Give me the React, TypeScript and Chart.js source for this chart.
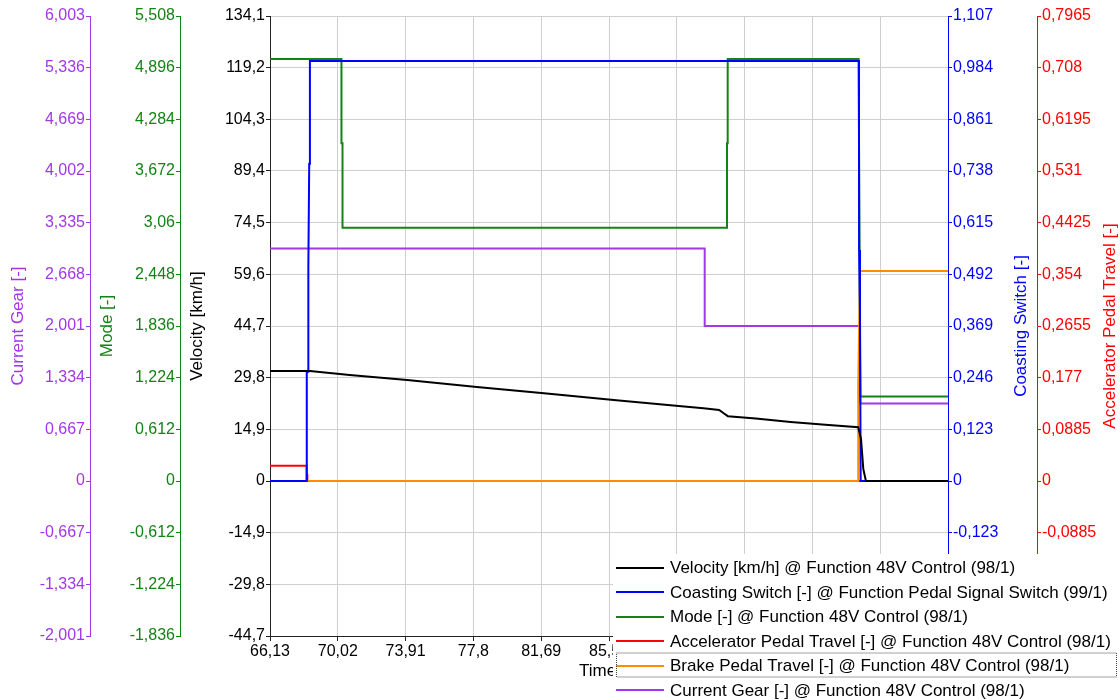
import React, { useEffect, useRef } from "react";
import { Chart, registerables } from "chart.js";

Chart.register(...registerables);

// ---- tick values (labels derived: decimal point -> comma) ----
const timeTicks = [66.13, 70.02, 73.91, 77.8, 81.69, 85.58, 89.47, 93.36, 97.25, 101.14, 105.03];
const velocityTicks = [-44.7, -29.8, -14.9, 0, 14.9, 29.8, 44.7, 59.6, 74.5, 89.4, 104.3, 119.2, 134.1];
const modeTicks = [-1.836, -1.224, -0.612, 0, 0.612, 1.224, 1.836, 2.448, 3.06, 3.672, 4.284, 4.896, 5.508];
const gearTicks = [-2.001, -1.334, -0.667, 0, 0.667, 1.334, 2.001, 2.668, 3.335, 4.002, 4.669, 5.336, 6.003];
const coastTicks = [-0.369, -0.246, -0.123, 0, 0.123, 0.246, 0.369, 0.492, 0.615, 0.738, 0.861, 0.984, 1.107];
const accelTicks = [-0.2655, -0.177, -0.0885, 0, 0.0885, 0.177, 0.2655, 0.354, 0.4425, 0.531, 0.6195, 0.708, 0.7965];

// ---- series ----
const velocityTime = [66.13, 68.42, 70.7, 74.0, 78.0, 82.0, 86.0, 89.58, 91.0, 91.9, 92.2, 92.4, 94.0, 96.0, 98.0, 99.88, 100.04, 100.17, 100.32, 105.03];
const velocityValues = [31.7, 31.7, 30.6, 29.1, 27.1, 25.2, 23.3, 21.6, 21.0, 20.5, 19.4, 18.7, 18.0, 17.0, 16.2, 15.5, 12.1, 3.5, 0, 0];

const coastTime = [66.13, 68.23, 68.24, 68.32, 68.33, 68.38, 68.42, 99.92, 99.93, 99.98, 100.02, 105.03];
const coastValues = [0, 0, 0.26, 0.26, 0.51, 0.755, 1.0, 1.0, 0.55, 0.4, 0, 0];

const modeTime = [66.13, 70.23, 70.23, 70.29, 70.29, 92.35, 92.35, 92.39, 92.39, 99.9, 99.95, 100.0, 105.03];
const modeValues = [5, 5, 4, 4, 3, 3, 4, 4, 5, 5, 3, 1, 1];

const accelTime = [66.13, 68.23, 68.23, 68.26, 68.26, 68.28, 68.28, 105.03];
const accelValues = [0.0262, 0.0262, 0, 0, 0.012, 0.012, 0, 0];

const brakeTime = [66.13, 99.88, 99.88, 99.98, 105.03];
const brakeValues = [0, 0, 0.23, 0.5, 0.5];

const gearTime = [66.13, 91.07, 91.07, 99.97, 100.0, 105.03];
const gearValues = [3, 3, 2, 2, 1, 1];

const seriesLabels = [
  "Velocity [km/h] @ Function 48V Control (98/1)",
  "Coasting Switch [-] @ Function Pedal Signal Switch (99/1)",
  "Mode [-] @ Function 48V Control (98/1)",
  "Accelerator Pedal Travel [-] @ Function 48V Control (98/1)",
  "Brake Pedal Travel [-] @ Function 48V Control (98/1)",
  "Current Gear [-] @ Function 48V Control (98/1)",
];

const PURPLE = "#A236E8";
const GREEN = "#148214";
const BLUE = "#0000FF";
const RED = "#FF0000";
const ORANGE = "#FF8C00";
const BLACK = "#000000";
const GRID = "#CFCFCF";
const FONT = "'Liberation Sans', Arial, sans-serif";

const pts = (t: number[], v: number[]) => t.map((x, i) => ({ x, y: v[i] }));
const fmt = (v: number | string) => String(v).replace(".", ",");
const setTicks = (arr: number[]) => (scale: any) => {
  scale.ticks = arr.map((value) => ({ value }));
};

const yAxis = (ticks: number[], color: string, position: string, weight: number, width: number, onArea = false) => ({
  type: "linear",
  position,
  weight,
  min: ticks[0],
  max: ticks[ticks.length - 1],
  afterBuildTicks: setTicks(ticks),
  afterFit: (s: any) => {
    s.width = width;
  },
  ticks: {
    color,
    autoSkip: false,
    padding: 1,
    font: { family: FONT, size: 16 },
    callback: (v: any) => fmt(v),
  },
  grid: {
    drawOnChartArea: onArea,
    color: onArea ? GRID : color,
    lineWidth: 1,
    tickLength: 4,
    tickColor: onArea ? "#222" : color,
  },
  border: { color: onArea ? "#222" : color, width: 1 },
  title: { display: false },
});

const overlayPlugin = {
  id: "overlay",
  afterDraw(chart: any) {
    const ctx = chart.ctx;
    const ca = chart.chartArea;
    const sc = chart.scales;
    const cy = (ca.top + ca.bottom) / 2;
    ctx.save();
    ctx.font = `17px ${FONT}`;
    ctx.textAlign = "center";
    ctx.textBaseline = "middle";
    const vt = (text: string, x: number, color: string) => {
      ctx.save();
      ctx.translate(x, cy);
      ctx.rotate(-Math.PI / 2);
      ctx.fillStyle = color;
      ctx.fillText(text, 0, 0);
      ctx.restore();
    };
    vt("Current Gear [-]", sc.gear.left + 18, PURPLE);
    vt("Mode [-]", sc.mode.left + 17, GREEN);
    vt("Velocity [km/h]", sc.y.left + 17, BLACK);
    vt("Coasting Switch [-]", sc.coast.right - 16, BLUE);
    vt("Accelerator Pedal Travel [-]", sc.accel.right - 10, RED);
    ctx.fillStyle = BLACK;
    ctx.fillText("Time [s]", (ca.left + ca.right) / 2, ca.bottom + 35);

    // legend
    const lx = 613;
    const ly = 554;
    ctx.fillStyle = "#FFFFFF";
    ctx.fillRect(lx, ly, chart.width - lx, chart.height - ly);
    ctx.textAlign = "left";
    chart.data.datasets.forEach((ds: any, i: number) => {
      const y = 567.5 + i * 24.5;
      ctx.strokeStyle = ds.borderColor;
      ctx.lineWidth = 2;
      ctx.beginPath();
      ctx.moveTo(616, Math.round(y) + 0);
      ctx.lineTo(664, Math.round(y) + 0);
      ctx.stroke();
      ctx.fillStyle = BLACK;
      ctx.fillText(ds.label, 670, y + 1);
      if (i === 4) {
        ctx.save();
        ctx.strokeStyle = "#444";
        ctx.lineWidth = 1;
        ctx.setLineDash([1, 1]);
        ctx.strokeRect(616.5, y - 12.5, 500, 24);
        ctx.restore();
      }
    });
    ctx.restore();
  },
};

export default function App() {
  const ref = useRef<HTMLCanvasElement | null>(null);
  useEffect(() => {
    if (!ref.current) return;
    const mk = (i: number, t: number[], v: number[], color: string, yAxisID: string, order: number) => ({
      label: seriesLabels[i],
      data: pts(t, v),
      borderColor: color,
      backgroundColor: color,
      borderWidth: 2,
      pointRadius: 0,
      tension: 0,
      yAxisID,
      order,
    });
    const chart = new Chart(ref.current, {
      type: "line",
      data: {
        datasets: [
          mk(0, velocityTime, velocityValues, BLACK, "y", 0),
          mk(1, coastTime, coastValues, BLUE, "coast", 1),
          mk(2, modeTime, modeValues, GREEN, "mode", 2),
          mk(3, accelTime, accelValues, RED, "accel", 4),
          mk(4, brakeTime, brakeValues, ORANGE, "coast", 3),
          mk(5, gearTime, gearValues, PURPLE, "gear", 5),
        ],
      },
      options: {
        responsive: false,
        animation: false,
        layout: { padding: { top: 16, left: 0, right: 0, bottom: 0 } },
        plugins: { legend: { display: false }, tooltip: { enabled: false } },
        scales: {
          x: {
            type: "linear",
            min: timeTicks[0],
            max: timeTicks[timeTicks.length - 1],
            afterBuildTicks: setTicks(timeTicks),
            afterFit: (s: any) => {
              s.height = 64;
            },
            ticks: {
              color: BLACK,
              autoSkip: false,
              maxRotation: 0,
              padding: 1,
              font: { family: FONT, size: 16 },
              callback: (v: any) => fmt(v),
            },
            grid: { color: GRID, lineWidth: 1, tickLength: 5, tickColor: "#222" },
            border: { color: "#222", width: 1 },
          },
          y: yAxis(velocityTicks, BLACK, "left", 0, 90, true),
          mode: yAxis(modeTicks, GREEN, "left", 1, 90),
          gear: yAxis(gearTicks, PURPLE, "left", 2, 90),
          coast: yAxis(coastTicks, BLUE, "right", 0, 89),
          accel: yAxis(accelTicks, RED, "right", 1, 83),
        },
      } as any,
      plugins: [overlayPlugin],
    });
    return () => chart.destroy();
  }, []);
  return (
    <div style={{ position: "absolute", left: 0, top: 0, width: 1120, height: 700, background: "#fff" }}>
      <canvas ref={ref} width={1120} height={700} style={{ display: "block" }} />
    </div>
  );
}
